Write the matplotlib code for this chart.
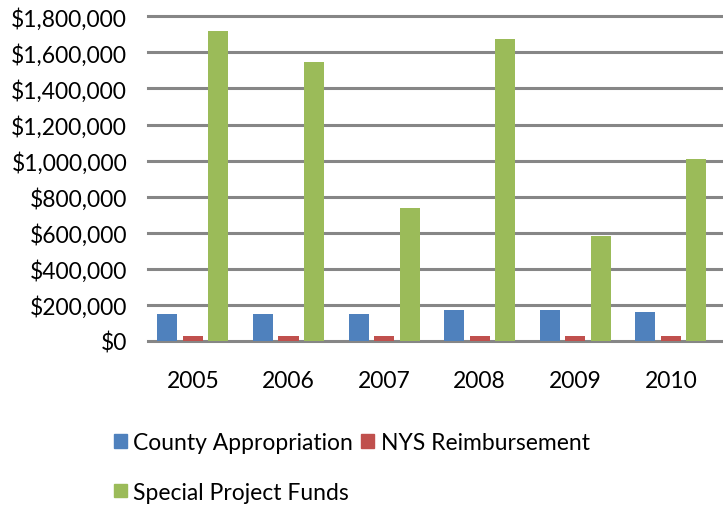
import matplotlib
matplotlib.use("Agg")
import matplotlib.pyplot as plt
import numpy as np
from matplotlib.ticker import FuncFormatter
from matplotlib.patches import Patch

plt.rcParams['font.family'] = ['Lato', 'DejaVu Sans']

years = ["2005", "2006", "2007", "2008", "2009", "2010"]
county = [148000, 148000, 148000, 170000, 170000, 159000]
nys = [25000, 25000, 25000, 25000, 25000, 25000]
special = [1720000, 1545000, 737000, 1674000, 584000, 1009000]
series_names = ["County Appropriation", "NYS Reimbursement", "Special Project Funds"]
colors = ["#4F81BD", "#C0504D", "#9BBB59"]
yticks = list(range(0, 1800001, 200000))

fig = plt.figure(figsize=(7.23, 5.06), dpi=100)
ax = fig.add_axes([148/723, 1-342/506, 575/723, 324.7/506])

x = np.arange(len(years))
off = 0.267
w = 0.21
for i, (vals, c) in enumerate(zip([county, nys, special], colors)):
    ax.bar(x + (i-1)*off, vals, width=w, color=c, edgecolor='none', zorder=3)

ax.set_xlim(-0.47, 5.545)
ax.set_ylim(0, 1800000)
ax.set_yticks(yticks)
ax.yaxis.set_major_formatter(FuncFormatter(lambda v, p: "${:,.0f}".format(v)))
ax.set_xticks(x)
ax.set_xticklabels(years)
ax.tick_params(axis='both', length=0, labelsize=16.5, colors='black')
ax.tick_params(axis='y', pad=15)
ax.tick_params(axis='x', pad=21)
ax.yaxis.grid(True, color='#868686', linewidth=2.2, zorder=0)
for gl in ax.get_ygridlines():
    gl.set_clip_on(False)
for s in ax.spines.values():
    s.set_visible(False)

handles = [Patch(color=colors[0]), Patch(color=colors[2]), Patch(color=colors[1])]
labels = [series_names[0], series_names[2], series_names[1]]
fig.legend(handles, labels, ncol=2, loc='upper left',
           bbox_to_anchor=(114/723, 1-433/506), frameon=False, fontsize=16.5,
           handlelength=0.55, handleheight=0.55, handletextpad=0.3,
           columnspacing=0.35, labelspacing=1.25, borderpad=0, borderaxespad=0)

fig.savefig("out.png", dpi=100)
